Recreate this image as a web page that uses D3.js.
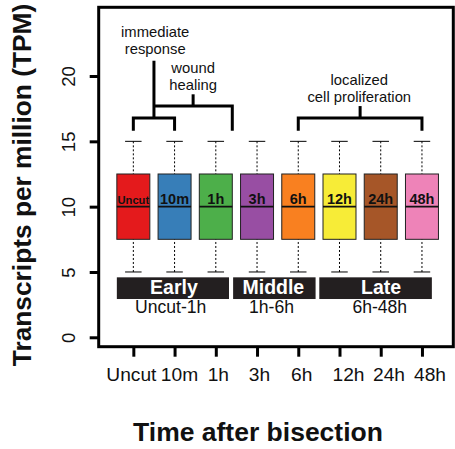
<!DOCTYPE html>
<html>
<head>
<meta charset="utf-8">
<script src="https://cdn.jsdelivr.net/npm/d3@7"></script>
<style>
  body { margin: 0; background: #fff; }
  svg text { font-family: "Liberation Sans", Arial, Helvetica, sans-serif; }
</style>
</head>
<body>
<div id="chart"></div>
<script>
// time points after bisection
var categories = ["Uncut", "10m", "1h", "3h", "6h", "12h", "24h", "48h"];
var boxColors = ["#E41A1C", "#377EB8", "#4DAF4A", "#984EA3", "#F98020", "#F7EC37", "#A65628", "#EE83B8"];

// box statistics (TPM), same for every time point
var whiskerLow = [5, 5, 5, 5, 5, 5, 5, 5];
var q1 = [7.5, 7.5, 7.5, 7.5, 7.5, 7.5, 7.5, 7.5];
var median = [10, 10, 10, 10, 10, 10, 10, 10];
var q3 = [12.5, 12.5, 12.5, 12.5, 12.5, 12.5, 12.5, 12.5];
var whiskerHigh = [15, 15, 15, 15, 15, 15, 15, 15];

var yTicks = [0, 5, 10, 15, 20];

// phase bars under the boxes
var phases = ["Early", "Middle", "Late"];
var phaseRanges = ["Uncut-1h", "1h-6h", "6h-48h"];
var phaseStart = [0.6, 3.42, 5.51];
var phaseEnd = [3.32, 5.42, 8.24];

var width = 455, height = 449;

var x = d3.scaleLinear().domain([0.16, 8.76]).range([98.7, 453.3]);
var y = d3.scaleLinear().domain([-0.72, 25.26]).range([346.7, 7.3]);

var svg = d3.select("#chart").append("svg")
    .attr("width", width)
    .attr("height", height);

var data = categories.map(function(c, i) {
  return { name: c, pos: i + 1, color: boxColors[i], lo: whiskerLow[i], q1: q1[i], med: median[i], q3: q3[i], hi: whiskerHigh[i] };
});

var boxW = 0.8, capW = 0.4;

// whiskers
var g = svg.append("g");
g.selectAll("line.wlo").data(data).enter().append("line")
    .attr("x1", function(d) { return x(d.pos); })
    .attr("x2", function(d) { return x(d.pos); })
    .attr("y1", function(d) { return y(d.lo); })
    .attr("y2", function(d) { return y(d.q1); })
    .attr("stroke", "#000").attr("stroke-width", 1).attr("stroke-dasharray", "2,2");
g.selectAll("line.whi").data(data).enter().append("line")
    .attr("x1", function(d) { return x(d.pos); })
    .attr("x2", function(d) { return x(d.pos); })
    .attr("y1", function(d) { return y(d.hi); })
    .attr("y2", function(d) { return y(d.q3); })
    .attr("stroke", "#000").attr("stroke-width", 1).attr("stroke-dasharray", "2,2");
["lo", "hi"].forEach(function(k) {
  g.selectAll("line.cap" + k).data(data).enter().append("line")
      .attr("x1", function(d) { return x(d.pos - capW / 2); })
      .attr("x2", function(d) { return x(d.pos + capW / 2); })
      .attr("y1", function(d) { return y(d[k]); })
      .attr("y2", function(d) { return y(d[k]); })
      .attr("stroke", "#000").attr("stroke-width", 1);
});

// boxes
g.selectAll("rect.box").data(data).enter().append("rect")
    .attr("x", function(d) { return x(d.pos - boxW / 2); })
    .attr("width", x(boxW) - x(0))
    .attr("y", function(d) { return y(d.q3); })
    .attr("height", function(d) { return y(d.q1) - y(d.q3); })
    .attr("fill", function(d) { return d.color; })
    .attr("stroke", "#222").attr("stroke-width", 1);
g.selectAll("line.med").data(data).enter().append("line")
    .attr("x1", function(d) { return x(d.pos - boxW / 2); })
    .attr("x2", function(d) { return x(d.pos + boxW / 2); })
    .attr("y1", function(d) { return y(d.med); })
    .attr("y2", function(d) { return y(d.med); })
    .attr("stroke", "#111").attr("stroke-width", 1.6);
g.selectAll("text.blab").data(data).enter().append("text")
    .attr("x", function(d) { return x(d.pos); })
    .attr("y", function(d) { return y(d.med) - 2.3; })
    .attr("text-anchor", "middle")
    .attr("font-weight", "bold")
    .attr("font-size", function(d) { return d.name === "Uncut" ? "11.2px" : "14.5px"; })
    .attr("fill", "#111")
    .text(function(d) { return d.name; });

// phase bars (labels nudged like the original)
var phaseLabelDx = [1, -1, 5.5];
var rangeLabelDx = [-2.2, -2.8, 4.2];
phases.forEach(function(p, i) {
  svg.append("rect")
      .attr("x", x(phaseStart[i]))
      .attr("width", x(phaseEnd[i]) - x(phaseStart[i]))
      .attr("y", y(4.59))
      .attr("height", y(2.93) - y(4.59))
      .attr("fill", "#231F20");
  var cx = (x(phaseStart[i]) + x(phaseEnd[i])) / 2;
  svg.append("text")
      .attr("x", cx + phaseLabelDx[i]).attr("y", 294)
      .attr("text-anchor", "middle")
      .attr("font-weight", "bold")
      .attr("font-size", "19.5px")
      .attr("fill", "#fff")
      .text(p);
  svg.append("text")
      .attr("x", cx + rangeLabelDx[i]).attr("y", 313.3)
      .attr("text-anchor", "middle")
      .attr("font-size", "17.6px")
      .attr("fill", "#111")
      .text(phaseRanges[i]);
});

// brackets
var line = d3.line().x(function(d) { return x(d[0]); }).y(function(d) { return y(d[1]); });
function bracket(pts) {
  svg.append("path").attr("d", line(pts))
      .attr("fill", "none").attr("stroke", "#000").attr("stroke-width", 3)
      .attr("stroke-linejoin", "miter").attr("stroke-linecap", "butt");
}
bracket([[1, 15.81], [1, 16.78], [2, 16.78], [2, 15.81]]);
bracket([[1.5, 16.78], [1.5, 21.17]]);
bracket([[1.5, 17.7], [3.4, 17.7], [3.4, 15.81]]);
bracket([[2.45, 17.7], [2.45, 18.6]]);
bracket([[5, 15.81], [5, 16.78], [8, 16.78], [8, 15.81]]);
bracket([[6.5, 16.78], [6.5, 17.7]]);

function note(cx, base, lines) {
  lines.forEach(function(t, i) {
    svg.append("text")
        .attr("x", x(cx)).attr("y", base + i * 17)
        .attr("text-anchor", "middle")
        .attr("font-size", "14.8px")
        .attr("fill", "#111")
        .text(t);
  });
}
note(1.53, 37.3, ["immediate", "response"]);
note(2.45, 72.5, ["wound", "healing"]);
note(6.48, 85, ["localized", "cell proliferation"]);

// axes
var yAxis = d3.axisLeft(y).tickValues(yTicks).tickSize(9).tickPadding(0).tickFormat(d3.format("d"));
var ya = svg.append("g").attr("transform", "translate(" + x.range()[0] + ",0)").call(yAxis);
ya.select(".domain").remove();
ya.selectAll(".tick line").attr("stroke", "#000").attr("stroke-width", 3);
ya.selectAll(".tick text")
    .attr("x", 0).attr("dy", null)
    .attr("transform", "translate(-24,0) rotate(-90)")
    .attr("text-anchor", "middle")
    .attr("font-size", "18.6px")
    .attr("font-family", "Liberation Sans, Arial, sans-serif")
    .attr("fill", "#111");

// the original tick labels sit a little off their ticks
var tickLabelDx = [-2.5, 4.4, 2, 1.9, 2.9, 8.5, 7.8, 7.5];
var xAxis = d3.axisBottom(x).tickValues(data.map(function(d) { return d.pos; }))
    .tickSize(10).tickPadding(0)
    .tickFormat(function(v) { return categories[v - 1]; });
var xa = svg.append("g").attr("transform", "translate(0," + y.range()[0] + ")").call(xAxis);
xa.select(".domain").remove();
xa.selectAll(".tick line").attr("stroke", "#000").attr("stroke-width", 3);
xa.selectAll(".tick text")
    .attr("y", 34).attr("dy", null)
    .attr("x", function(v) { return tickLabelDx[v - 1]; })
    .attr("font-size", "19.2px")
    .attr("font-family", "Liberation Sans, Arial, sans-serif")
    .attr("fill", "#111");

// frame
svg.append("rect")
    .attr("x", x.range()[0]).attr("y", y.range()[1])
    .attr("width", x.range()[1] - x.range()[0])
    .attr("height", y.range()[0] - y.range()[1])
    .attr("fill", "none").attr("stroke", "#000").attr("stroke-width", 3);

// axis titles
svg.append("text")
    .attr("transform", "translate(31,185) rotate(-90)")
    .attr("text-anchor", "middle")
    .attr("font-weight", "bold")
    .attr("font-size", "26.3px")
    .attr("fill", "#111")
    .text("Transcripts per million (TPM)");
svg.append("text")
    .attr("x", 258).attr("y", 440.5)
    .attr("text-anchor", "middle")
    .attr("font-weight", "bold")
    .attr("font-size", "26.5px")
    .attr("fill", "#111")
    .text("Time after bisection");
</script>
</body>
</html>
